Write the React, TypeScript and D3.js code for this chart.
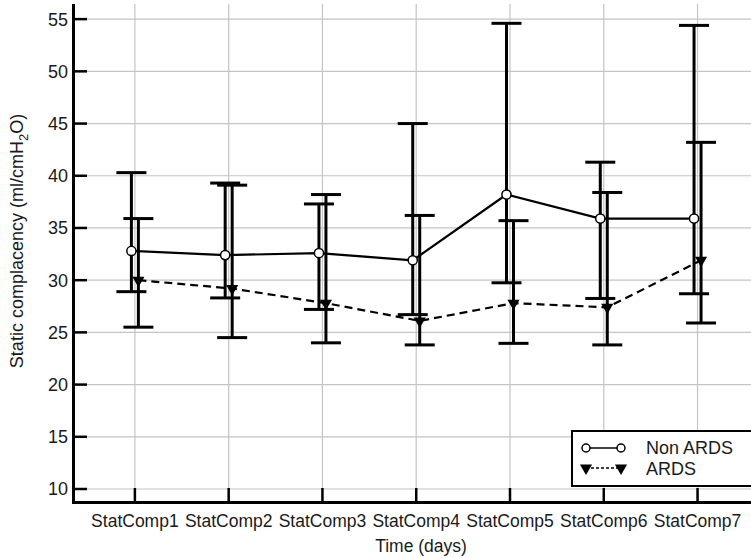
import React from "react";
import * as d3 from "d3";

const categories = ["StatComp1", "StatComp2", "StatComp3", "StatComp4", "StatComp5", "StatComp6", "StatComp7"];
const nonArdsMean = [32.8, 32.4, 32.6, 31.9, 38.2, 35.9, 35.9];
const nonArdsUpper = [40.3, 39.3, 37.3, 45.0, 54.6, 41.3, 54.4];
const nonArdsLower = [28.9, 28.3, 27.2, 26.7, 29.75, 28.25, 28.7];
const ardsMean = [30.0, 29.2, 27.8, 26.1, 27.8, 27.4, 31.9];
const ardsUpper = [35.9, 39.1, 38.2, 36.2, 35.7, 38.4, 43.2];
const ardsLower = [25.5, 24.5, 24.0, 23.8, 23.95, 23.8, 25.9];
const yTicks = [10, 15, 20, 25, 30, 35, 40, 45, 50, 55];
const seriesNames = ["Non ARDS", "ARDS"];

const W = 751;
const H = 558;
const FONT = "'Liberation Sans', Arial, sans-serif";

export default function App() {
  const x = d3.scaleLinear().domain([0.34, 7.57]).range([73, 751]);
  const y = d3.scaleLinear().domain([8.66, 56.45]).range([503, 4]);
  const off = 3.5;
  const capW = 15;

  const idx = categories.map((_, i) => i);
  const lineNon = d3
    .line<number>()
    .x((i) => x(i + 1) - off)
    .y((i) => y(nonArdsMean[i]));
  const lineArds = d3
    .line<number>()
    .x((i) => x(i + 1) + off)
    .y((i) => y(ardsMean[i]));
  const tri = d3.symbol().type(d3.symbolTriangle).size(64)() as string;

  const errBar = (cx: number, lo: number, hi: number, key: string) => (
    <g key={key} stroke="#000" strokeWidth={3}>
      <line x1={cx} x2={cx} y1={y(lo)} y2={y(hi)} />
      <line x1={cx - capW} x2={cx + capW} y1={y(hi)} y2={y(hi)} />
      <line x1={cx - capW} x2={cx + capW} y1={y(lo)} y2={y(lo)} />
    </g>
  );

  const lgX = 572;
  const lgY = 431;

  return (
    <svg
      width={W}
      height={H}
      style={{ position: "absolute", left: 0, top: 0, background: "#fff" }}
      fontFamily={FONT}
    >
      <rect x={0} y={0} width={W} height={H} fill="#fff" />
      {yTicks.map((t) => (
        <line key={"gy" + t} x1={73} x2={751} y1={y(t)} y2={y(t)} stroke="#c4c4c4" strokeWidth={1.2} />
      ))}
      {categories.map((c, i) => (
        <line key={"gx" + c} x1={x(i + 1)} x2={x(i + 1)} y1={4} y2={503} stroke="#c4c4c4" strokeWidth={1.2} />
      ))}
      {idx.map((i) => errBar(x(i + 1) - off, nonArdsLower[i], nonArdsUpper[i], "en" + i))}
      {idx.map((i) => errBar(x(i + 1) + off, ardsLower[i], ardsUpper[i], "ea" + i))}
      <path d={lineNon(idx) as string} fill="none" stroke="#000" strokeWidth={2.2} />
      <path d={lineArds(idx) as string} fill="none" stroke="#000" strokeWidth={2.2} strokeDasharray="8,5" />
      {idx.map((i) => (
        <circle key={"mn" + i} cx={x(i + 1) - off} cy={y(nonArdsMean[i])} r={4.6} fill="#fff" stroke="#000" strokeWidth={1.5} />
      ))}
      {idx.map((i) => (
        <path
          key={"ma" + i}
          d={tri}
          transform={`translate(${x(i + 1) + off},${y(ardsMean[i])}) rotate(180)`}
          fill="#000"
        />
      ))}
      <line x1={73.5} x2={73.5} y1={4} y2={504} stroke="#000" strokeWidth={3} />
      <line x1={72} x2={751} y1={502.5} y2={502.5} stroke="#000" strokeWidth={3} />
      {yTicks.map((t) => (
        <g key={"ty" + t}>
          <line x1={73} x2={87} y1={y(t)} y2={y(t)} stroke="#000" strokeWidth={2.5} />
          <text x={68} y={y(t)} dy="0.36em" textAnchor="end" fontSize={18} fill="#1a1a1a">
            {t}
          </text>
        </g>
      ))}
      {categories.map((c, i) => (
        <g key={"tx" + c}>
          <line x1={x(i + 1)} x2={x(i + 1)} y1={502} y2={488} stroke="#000" strokeWidth={2.5} />
          <text x={x(i + 1)} y={527} textAnchor="middle" fontSize={17.5} fill="#1a1a1a">
            {c}
          </text>
        </g>
      ))}
      <text x={421} y={552} textAnchor="middle" fontSize={17.5} fill="#1a1a1a">
        Time (days)
      </text>
      <text transform="translate(23,241) rotate(-90)" textAnchor="middle" fontSize={18} fill="#1a1a1a">
        Static complacency (ml/cmH
        <tspan fontSize={13} dy={5}>2</tspan>
        <tspan dy={-5}>O)</tspan>
      </text>
      <rect x={lgX} y={lgY} width={200} height={55} fill="#fff" stroke="#000" strokeWidth={2} />
      <line x1={586} x2={621} y1={448} y2={448} stroke="#000" strokeWidth={1.5} />
      <circle cx={586} cy={448} r={4} fill="#fff" stroke="#000" strokeWidth={1.5} />
      <circle cx={621} cy={448} r={4} fill="#fff" stroke="#000" strokeWidth={1.5} />
      <text x={646} y={448} dy="0.36em" fontSize={18} fill="#1a1a1a">
        {seriesNames[0]}
      </text>
      <line x1={586} x2={621} y1={468} y2={468} stroke="#000" strokeWidth={1.3} strokeDasharray="3,2" />
      <path d={tri} transform="translate(586,468) rotate(180)" fill="#000" />
      <path d={tri} transform="translate(621,468) rotate(180)" fill="#000" />
      <text x={646} y={469} dy="0.36em" fontSize={18} fill="#1a1a1a">
        {seriesNames[1]}
      </text>
    </svg>
  );
}
